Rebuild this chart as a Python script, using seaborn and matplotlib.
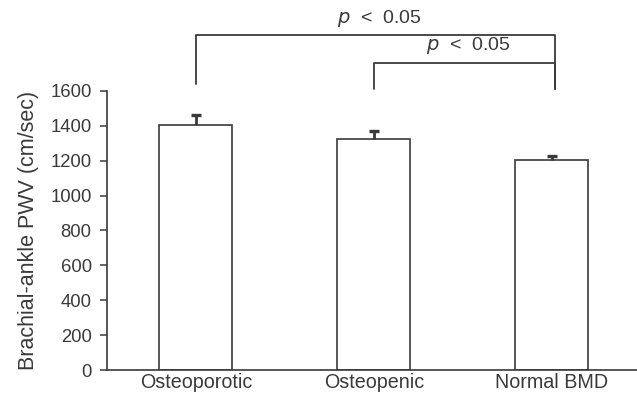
import matplotlib
matplotlib.use("Agg")
import matplotlib.pyplot as plt
import seaborn as sns
import pandas as pd
import numpy as np

categories = ["Osteoporotic", "Osteopenic", "Normal BMD"]
means = [1405, 1322, 1205]
errors = [55, 50, 20]
yticks = [0, 200, 400, 600, 800, 1000, 1200, 1400, 1600]
sig_label = "$p$  <  0.05"

sns.set_theme(style="ticks")
plt.rcParams['font.family'] = ['Liberation Sans', 'DejaVu Sans']
ink = "#3a3a3a"

fig = plt.figure(figsize=(6.37, 3.95), dpi=100)
ax = fig.add_axes([0.168, 0.063, 0.835, 0.707])

df = pd.DataFrame({"group": categories, "pwv": means})
sns.barplot(data=df, x="group", y="pwv", ax=ax, color="white", edgecolor=ink,
            linewidth=1.2, width=0.41, errorbar=None, order=categories)
xs = np.arange(len(categories))
eb = ax.errorbar(xs, means, yerr=[np.zeros(len(means)), errors], fmt="none",
                 ecolor=ink, elinewidth=2.0, capsize=3.6, capthick=2.4, zorder=3)
# only the upper cap is drawn
caps = eb[1]
if len(caps) >= 2:
    caps[0].set_visible(False)

ax.set_ylim(0, 1600)
ax.set_xlim(-0.5, 2.49)
ax.set_yticks(yticks)
ax.set_yticklabels([str(v) for v in yticks], fontsize=13.3, color=ink)
ax.set_xticks(xs)
ax.set_xticklabels(categories, fontsize=14.2, color=ink)
ax.tick_params(axis="x", length=0, pad=2)
ax.tick_params(axis="y", length=5, width=1.1, color=ink, pad=6)
ax.set_xlabel("")
ax.set_ylabel("Brachial-ankle PWV (cm/sec)", fontsize=15.5, color=ink, labelpad=8)
for s in ["top", "right"]:
    ax.spines[s].set_visible(False)
for s in ["left", "bottom"]:
    ax.spines[s].set_color(ink)
    ax.spines[s].set_linewidth(1.2)

# significance brackets
def bracket(x0, x1, ytop, y0, y1, label):
    ax.plot([x0, x0, x1, x1], [y0, ytop, ytop, y1], color=ink, lw=1.3,
            clip_on=False)
    ax.text((x0 + x1) / 2 + 0.02, ytop + 35, label,
            ha="center", va="bottom", fontsize=14, color=ink, clip_on=False)

bracket(0, 2.02, 1918, 1642, 1611, sig_label)
bracket(1, 2.02, 1762, 1611, 1611, sig_label)

fig.savefig("out.png", dpi=100)
